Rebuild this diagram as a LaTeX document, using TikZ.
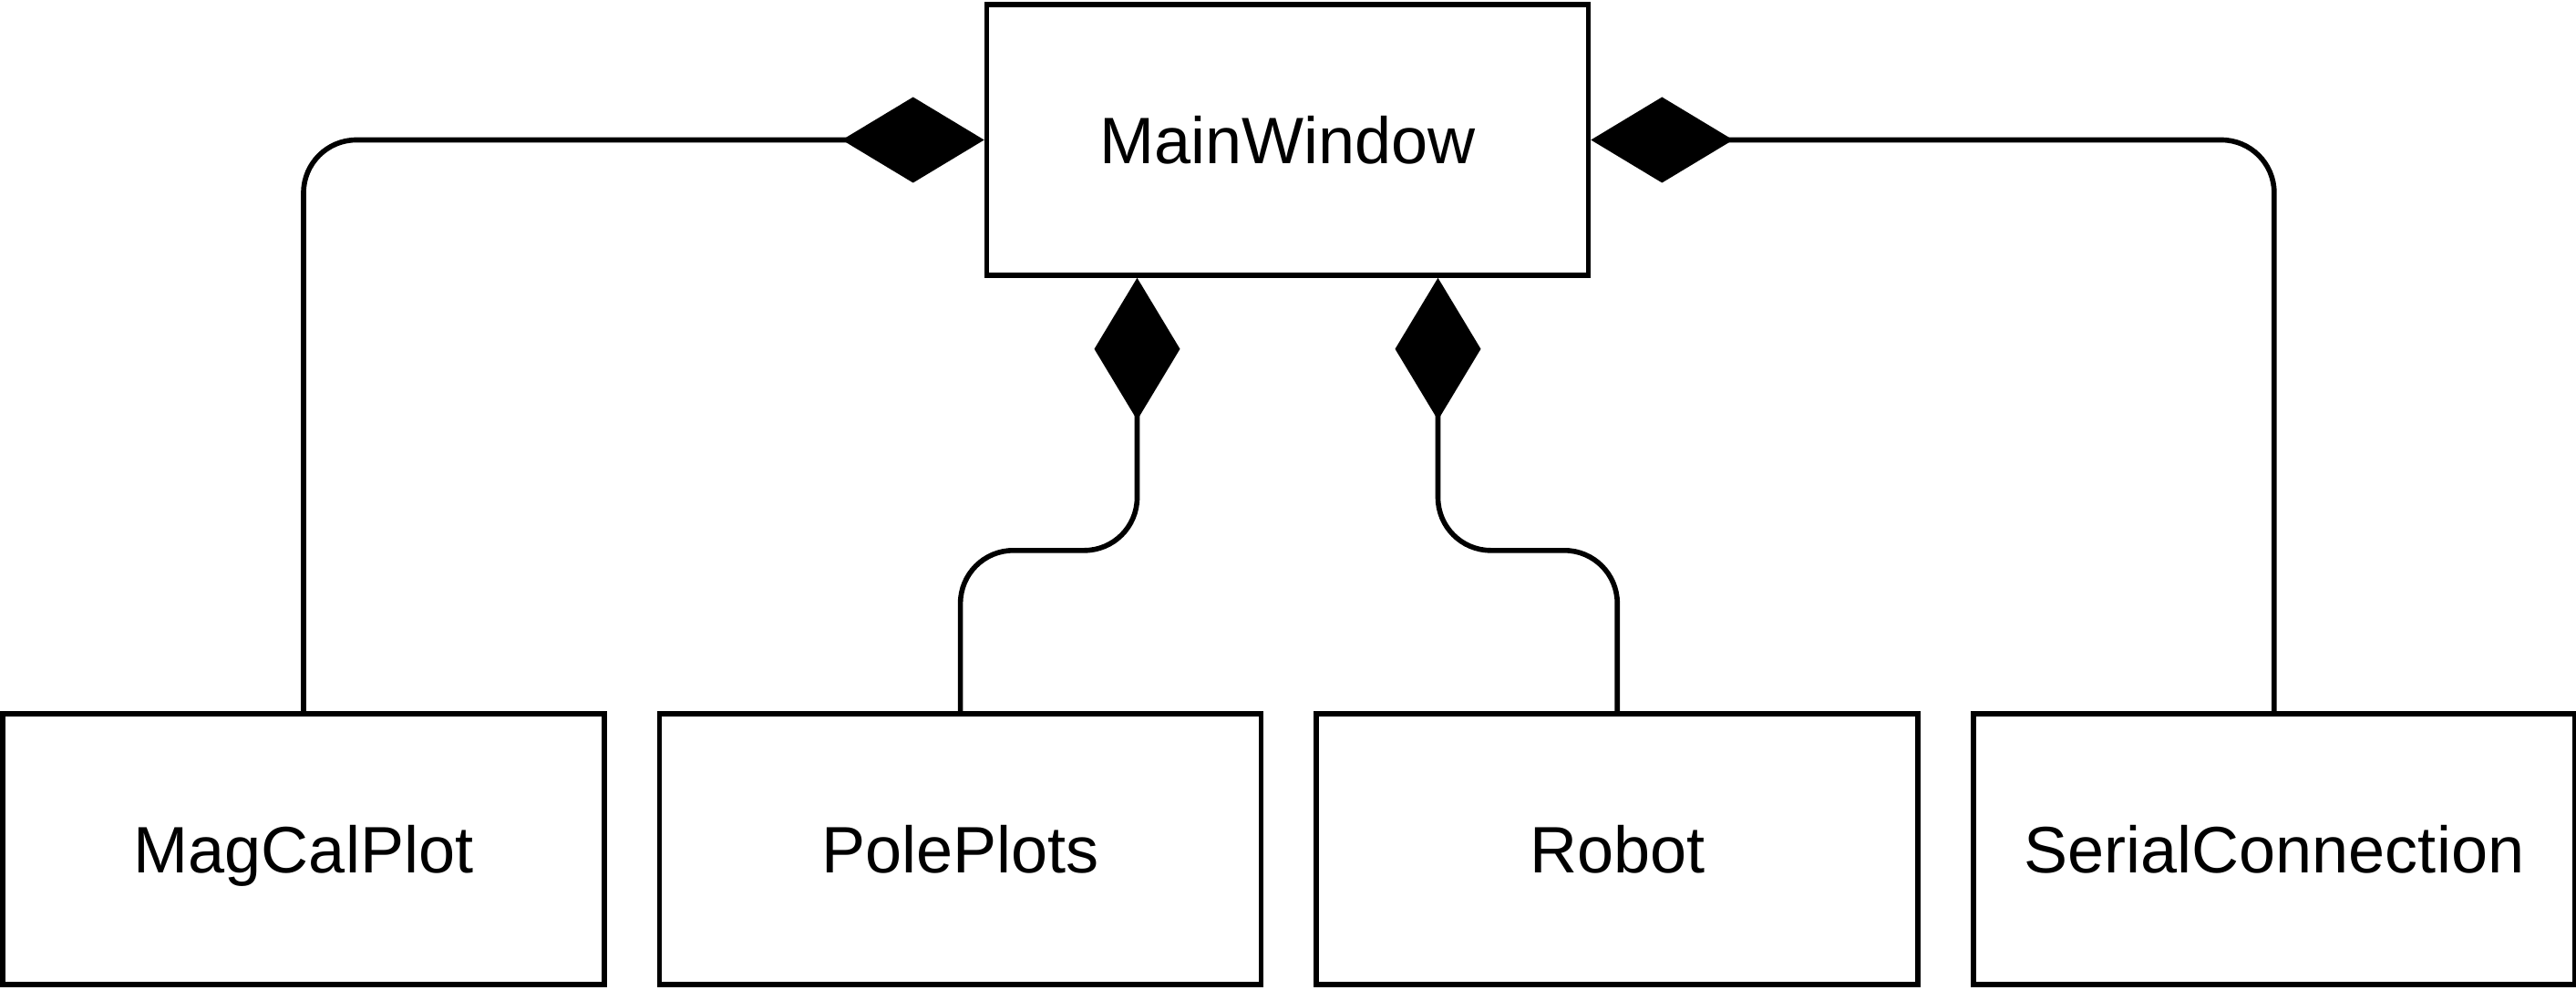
\documentclass[tikz,border=0pt]{standalone}
\usepackage{fontspec}
\setmainfont{Liberation Sans}
\usetikzlibrary{arrows.meta,positioning}

\tikzset{
  classbox/.style={draw, line width=1.6pt, minimum width=6.6cm, minimum height=2.97cm,
    inner sep=0pt, text height=0.52cm, text depth=0pt, font=\fontsize{20.5}{24}\selectfont},
  composition/.style={line width=1.6pt, rounded corners=0.58cm,
    {Diamond[length=1.56cm, width=0.94cm]}-}
}

\begin{document}
\begin{tikzpicture}
\useasboundingbox (0,0) rectangle (28.26,-10.86);

% the owning class
\node[classbox] (main) at (14.125,-1.535) {MainWindow};

% parts, left to right
\node[classbox] (magcal) at (3.33,-9.315) {MagCalPlot};
\node[classbox, right=0.55cm of magcal] (pole) {PolePlots};
\node[classbox, right=0.55cm of pole] (robot) {Robot};
\node[classbox, right=0.55cm of robot] (serial) {SerialConnection};

% composition links
\draw[composition] (main.west) -| (magcal.north);
\draw[composition] (main.east) -| (serial.north);
\draw[composition] ([xshift=-1.65cm]main.south) -- ++(0,-2.99) -| (pole.north);
\draw[composition] ([xshift=1.65cm]main.south) -- ++(0,-2.99) -| (robot.north);

\end{tikzpicture}
\end{document}
